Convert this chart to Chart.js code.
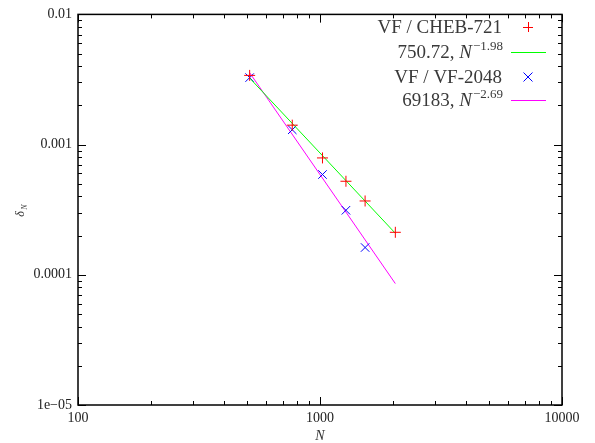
<!DOCTYPE html>
<html>
<head>
<meta charset="utf-8">
<script src="https://cdn.jsdelivr.net/npm/chart.js@4.4.1/dist/chart.umd.min.js"></script>
<style>
  html, body { margin: 0; padding: 0; background: #fff; }
  #wrap { width: 595px; height: 443px; }
</style>
</head>
<body>
<div id="wrap"><canvas id="c" width="595" height="443"></canvas></div>
<script>
// measured error vs N
var nCheb = [512, 768, 1024, 1280, 1536, 2048];
var errCheb = [0.0034, 0.00141, 0.00079, 0.000523, 0.000369, 0.000212];
var nVf = [512, 768, 1024, 1280, 1536];
var errVf = [0.00327, 0.0013, 0.000589, 0.000313, 0.000162];

// power-law fits  c * N^p
var fitCheb = [750.72, -1.98];
var fitVf = [69183, -2.69];
var fitRange = [512, 2048];

var yTicks = [0.01, 0.001, 0.0001, 0.00001];
var yTickText = ['0.01', '0.001', '0.0001', '1e\u221205'];
var xTicks = [100, 1000, 10000];

function pts(xs, ys) {
  return xs.map(function (x, i) { return { x: x, y: ys[i] }; });
}
function fitPts(f) {
  return fitRange.map(function (n) { return { x: n, y: f[0] * Math.pow(n, f[1]) }; });
}

var SERIF = '"Liberation Serif", "DejaVu Serif", serif';

var frame = {
  id: 'frame',
  afterDraw: function (chart) {
    var ctx = chart.ctx, a = chart.chartArea;
    var xs = chart.scales.x, ys = chart.scales.y;
    ctx.save();
    ctx.strokeStyle = '#000';
    ctx.lineWidth = 1;
    // inward ticks on all four sides
    for (var d = 100; d < 10000; d *= 10) {
      for (var k = 1; k <= 10; k++) {
        var v = d * k;
        var px = Math.round(xs.getPixelForValue(v)) + 0.5;
        var len = (k === 1 || k === 10) ? 8 : 4;
        ctx.beginPath();
        ctx.moveTo(px, a.bottom); ctx.lineTo(px, a.bottom - len);
        ctx.moveTo(px, a.top); ctx.lineTo(px, a.top + len);
        ctx.stroke();
      }
    }
    for (var e = 0.00001; e < 0.0099; e *= 10) {
      for (var j = 1; j <= 10; j++) {
        var w = e * j;
        var py = Math.round(ys.getPixelForValue(w)) + 0.5;
        var l2 = (j === 1 || j === 10) ? 8 : 4;
        ctx.beginPath();
        ctx.moveTo(a.left, py); ctx.lineTo(a.left + l2, py);
        ctx.moveTo(a.right, py); ctx.lineTo(a.right - l2, py);
        ctx.stroke();
      }
    }
    ctx.lineWidth = 1.5;
    ctx.strokeRect(a.left, a.top, a.right - a.left, a.bottom - a.top);

    // axis titles
    ctx.fillStyle = '#333';
    ctx.font = 'italic 14px ' + SERIF;
    ctx.textAlign = 'center';
    ctx.textBaseline = 'middle';
    ctx.fillText('N', (a.left + a.right) / 2, 436);
    ctx.save();
    ctx.translate(21, 211);
    ctx.rotate(-Math.PI / 2);
    ctx.font = 'italic 12px ' + SERIF;
    ctx.fillText('\u03B4', -3, 0);
    ctx.font = 'italic 8px ' + SERIF;
    ctx.fillText('N', 4, 4);
    ctx.restore();

    // key
    var rx = 502, sx0 = 511, sx1 = 546, mx = 528;
    var rows = [
      { y: 27, parts: [['VF / CHEB-721', 'n']], kind: 'cross', color: '#ff0000' },
      { y: 52, parts: [['750.72, ', 'n'], ['N', 'i'], ['\u22121.98', 's']], kind: 'line', color: '#00ff00' },
      { y: 77, parts: [['VF / VF-2048', 'n']], kind: 'x', color: '#0000ff' },
      { y: 100, parts: [['69183, ', 'n'], ['N', 'i'], ['\u22122.69', 's']], kind: 'line', color: '#ff00ff' }
    ];
    var fonts = { n: '19px ' + SERIF, i: 'italic 19px ' + SERIF, s: '13px ' + SERIF };
    ctx.textAlign = 'left';
    ctx.textBaseline = 'alphabetic';
    rows.forEach(function (r) {
      var total = 0;
      r.parts.forEach(function (p) { ctx.font = fonts[p[1]]; total += ctx.measureText(p[0]).width; });
      var x = rx - total;
      ctx.fillStyle = '#3a3a3a';
      r.parts.forEach(function (p) {
        ctx.font = fonts[p[1]];
        var dy = p[1] === 's' ? -8 : 0;
        ctx.fillText(p[0], x, r.y + 6 + dy);
        x += ctx.measureText(p[0]).width + (p[1] === 'i' ? 1 : 0);
      });
      ctx.strokeStyle = r.color;
      ctx.lineWidth = 1;
      ctx.beginPath();
      if (r.kind === 'line') {
        ctx.moveTo(sx0, r.y + 0.5); ctx.lineTo(sx1, r.y + 0.5);
      } else if (r.kind === 'cross') {
        ctx.moveTo(mx - 5, r.y + 0.5); ctx.lineTo(mx + 5, r.y + 0.5);
        ctx.moveTo(mx + 0.5, r.y - 5); ctx.lineTo(mx + 0.5, r.y + 5);
      } else {
        ctx.moveTo(mx - 4.5, r.y - 4.5); ctx.lineTo(mx + 4.5, r.y + 4.5);
        ctx.moveTo(mx + 4.5, r.y - 4.5); ctx.lineTo(mx - 4.5, r.y + 4.5);
      }
      ctx.stroke();
    });
    ctx.restore();
  }
};

new Chart(document.getElementById('c'), {
  type: 'scatter',
  data: {
    datasets: [
      { label: 'VF / CHEB-721', data: pts(nCheb, errCheb), pointStyle: 'cross', pointRadius: 5.5,
        borderColor: '#ff0000', backgroundColor: '#ff0000', borderWidth: 1, showLine: false },
      { label: '750.72, N^-1.98', data: fitPts(fitCheb), showLine: true, pointRadius: 0,
        borderColor: '#00ff00', borderWidth: 1 },
      { label: 'VF / VF-2048', data: pts(nVf, errVf), pointStyle: 'crossRot', pointRadius: 6,
        borderColor: '#0000ff', backgroundColor: '#0000ff', borderWidth: 1, showLine: false },
      { label: '69183, N^-2.69', data: fitPts(fitVf), showLine: true, pointRadius: 0,
        borderColor: '#ff00ff', borderWidth: 1 }
    ]
  },
  options: {
    responsive: false,
    animation: false,
    layout: { padding: { left: 0, top: 14, right: 33, bottom: 0 } },
    plugins: { legend: { display: false }, tooltip: { enabled: false } },
    scales: {
      x: {
        type: 'logarithmic', min: 100, max: 10000,
        grid: { display: false, drawTicks: false },
        border: { display: false },
        afterFit: function (s) { s.height = 38; },
        afterBuildTicks: function (s) { s.ticks = xTicks.map(function (v) { return { value: v }; }); },
        ticks: {
          autoSkip: false, maxRotation: 0, padding: 5, color: '#222',
          font: { family: SERIF, size: 14 },
          callback: function (v) { return String(v); }
        }
      },
      y: {
        type: 'logarithmic', min: 0.00001, max: 0.01,
        grid: { display: false, drawTicks: false },
        border: { display: false },
        afterFit: function (s) { s.width = 78; },
        afterBuildTicks: function (s) { s.ticks = yTicks.map(function (v) { return { value: v }; }); },
        ticks: {
          autoSkip: false, padding: 6, color: '#222',
          font: { family: SERIF, size: 14 },
          callback: function (v) {
            var i = yTicks.findIndex(function (t) { return Math.abs(t - v) / t < 1e-6; });
            return i >= 0 ? yTickText[i] : '';
          }
        }
      }
    }
  },
  plugins: [frame]
});
</script>
</body>
</html>
